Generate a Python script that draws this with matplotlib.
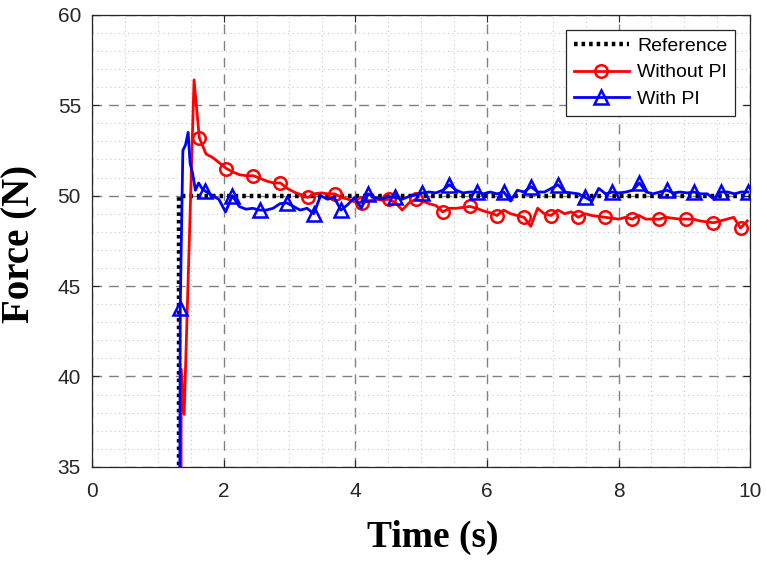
import numpy as np
import matplotlib.pyplot as plt
from matplotlib.ticker import MultipleLocator

# reference step
t_ref = [0, 1.32, 1.32, 10]
f_ref = [0, 0, 50, 50]

# without PI: transient points, then a regular tail
t_red_head = [0, 1.345, 1.355, 1.40, 1.55]
f_red_head = [0, 0, 40.4, 37.9, 56.4]
f_red_tail = [53.2, 52.3, 52.1, 51.8, 51.5, 51.3, 51.15, 51.1, 51.1, 50.95,
              50.8, 50.7, 50.7, 50.4, 50.2, 50.05, 49.9, 50.1, 50.15, 50.1,
              50.1, 49.9, 49.8, 49.65, 49.6, 49.7, 49.8, 49.75, 49.8, 49.6,
              49.2, 49.6, 49.8, 49.7, 49.55, 49.45, 49.1, 49.3, 49.3, 49.35,
              49.4, 49.3, 49.15, 49.05, 48.9, 49.2, 49.0, 48.9, 48.8, 48.3,
              49.3, 49.0, 48.9, 49.2, 49.0, 49.1, 48.8, 49.0, 48.9, 48.85,
              48.8, 48.75, 48.7, 48.8, 48.7, 48.9, 48.7, 48.7, 48.7, 48.8,
              48.75, 48.7, 48.7, 48.7, 48.6, 48.55, 48.5, 48.6, 48.7, 48.8,
              48.2, 48.6]
t_red_tail = 1.63 + 0.1028 * np.arange(len(f_red_tail))

# with PI
t_blue_head = [0, 1.31, 1.34, 1.38, 1.42, 1.46, 1.49, 1.53, 1.57, 1.62, 1.67]
f_blue_head = [0, 0, 43.8, 52.5, 52.8, 53.5, 51.8, 51.2, 50.3, 50.7, 50.4]
f_blue_tail = [50.25, 50.0, 49.8, 49.1, 50.0, 49.4, 49.25, 49.3, 49.2, 49.2,
               49.3, 49.55, 49.6, 49.4, 49.2, 49.3, 49.0, 50.0, 49.8, 49.9,
               49.2, 49.5, 49.9, 49.3, 50.1, 49.9, 49.8, 49.95, 49.9, 49.8,
               49.95, 50.05, 50.15, 50.2, 50.15, 50.3, 50.6, 50.3, 50.15, 50.2,
               50.2, 50.1, 50.2, 50.1, 50.2, 49.7, 50.3, 50.2, 50.5, 50.2,
               50.2, 50.4, 50.6, 50.2, 50.15, 50.1, 49.9, 49.7, 50.4, 50.1,
               50.2, 50.15, 50.2, 50.3, 50.7, 50.2, 50.1, 50.2, 50.3, 50.15,
               50.2, 50.15, 50.2, 50.1, 50.1, 49.8, 50.2, 50.2, 50.1, 50.2,
               50.2]
t_blue_tail = 1.72 + 0.1031 * np.arange(len(f_blue_tail))

t_red = np.concatenate([t_red_head, t_red_tail])
f_red = np.concatenate([f_red_head, f_red_tail])
t_blue = np.concatenate([t_blue_head, t_blue_tail])
f_blue = np.concatenate([f_blue_head, f_blue_tail])

red_marks = list(range(len(t_red_head), len(t_red), 4))
blue_marks = [2] + list(range(len(t_blue_head), len(t_blue), 4))

fig = plt.figure(figsize=(7.67, 5.7), dpi=100)
ax = fig.add_axes([0.12, 0.181, 0.858, 0.793])

ax.plot(t_ref, f_ref, color='black', lw=3.2, ls=(0, (0.8, 0.9)), label='Reference', zorder=3)
ax.plot(t_red, f_red, color='#ff0000', lw=2.0, marker='o', ms=9, mfc='none', mew=1.8,
        markevery=red_marks, label='Without PI', zorder=4)
ax.plot(t_blue, f_blue, color='#0000ff', lw=2.0, marker='^', ms=10, mfc='none', mew=1.8,
        markevery=blue_marks, label='With PI', zorder=5)

ax.set_xlim(0, 10)
ax.set_ylim(35, 60)
ax.xaxis.set_major_locator(MultipleLocator(2))
ax.xaxis.set_minor_locator(MultipleLocator(0.5))
ax.yaxis.set_major_locator(MultipleLocator(5))
ax.yaxis.set_minor_locator(MultipleLocator(1))

ax.grid(which='major', color='#808080', ls=(0, (7, 5)), lw=1.0)
ax.grid(which='minor', color='#c8c8c8', ls=(0, (1, 3)), lw=0.8)
ax.set_axisbelow(True)

for s in ax.spines.values():
    s.set_color('#262626')
    s.set_linewidth(0.9)
ax.tick_params(which='both', direction='in', top=True, right=True, colors='#262626',
               labelsize=15)
ax.tick_params(which='major', length=5)
ax.tick_params(which='minor', length=0)
ax.tick_params(axis='x', pad=11)
ax.tick_params(axis='y', pad=8)
for lab in ax.get_xticklabels() + ax.get_yticklabels():
    lab.set_fontfamily('Liberation Sans')

ax.set_xlabel('Time (s)', family='Liberation Serif', weight='bold', size=27)
ax.set_ylabel('Force (N)', family='Liberation Serif', weight='bold', size=28)
ax.xaxis.set_label_coords(0.517, -0.117)
ax.yaxis.set_label_coords(-0.082, 0.494)

leg = ax.legend(loc='upper right', bbox_to_anchor=(0.977, 0.967), handlelength=2.85,
                prop={'family': 'Liberation Sans', 'size': 14}, fancybox=False,
                framealpha=1, borderpad=0.4, labelspacing=0.45, handletextpad=0.4,
                borderaxespad=0)
leg.get_frame().set_edgecolor('#262626')
leg.get_frame().set_linewidth(0.9)

fig.savefig('out.png', dpi=100)
